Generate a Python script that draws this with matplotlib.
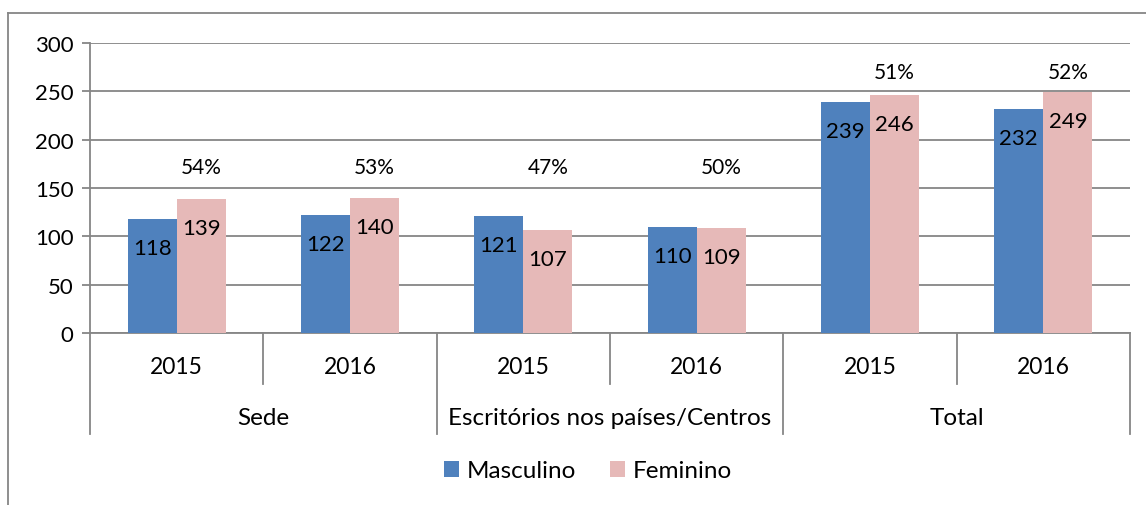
import matplotlib
matplotlib.use("Agg")
import matplotlib.pyplot as plt
import matplotlib.transforms as mtransforms
from matplotlib.lines import Line2D
import numpy as np

# data
groups = ["Sede", "Escritórios nos países/Centros", "Total"]
years = ["2015", "2016"]
masculino = [118, 122, 121, 110, 239, 232]
feminino = [139, 140, 107, 109, 246, 249]

BLUE = "#4F81BD"
PINK = "#E6B9B8"
GRID = "#868686"
FONT = "Lato"

plt.rcParams['font.family'] = [FONT, 'DejaVu Sans']


def main():
	fig = plt.figure(figsize=(11.46, 5.06), dpi=100)
	ax = fig.add_axes([90 / 1146, 1 - 334 / 506, 1040 / 1146, 290 / 506])

	n = len(masculino)
	x = np.arange(n)
	w = 0.283
	b1 = ax.bar(x - w / 2, masculino, w, color=BLUE, label="Masculino", zorder=3)
	b2 = ax.bar(x + w / 2, feminino, w, color=PINK, label="Feminino", zorder=3)

	ax.set_xlim(-0.5, n - 0.5)
	ax.set_ylim(0, 300)
	ax.set_yticks(range(0, 301, 50))
	ax.tick_params(axis='y', labelsize=16, length=6, width=1.3, color=GRID, pad=6)
	ax.set_xticks([])
	ax.grid(axis='y', color=GRID, linewidth=1.3, zorder=0)
	ax.set_axisbelow(True)
	for s in ['top', 'right']:
		ax.spines[s].set_visible(False)
	for s in ['left', 'bottom']:
		ax.spines[s].set_color(GRID)
		ax.spines[s].set_linewidth(1.3)

	# value labels inside end
	for bars, vals in ((b1, masculino), (b2, feminino)):
		for r, v in zip(bars, vals):
			ax.annotate(str(v), (r.get_x() + r.get_width() / 2, v), xytext=(0, -21),
				textcoords='offset points', ha='center', va='center', fontsize=16)

	# percentage of women, shown above each pair
	pct = [f / (m + f) * 100 for m, f in zip(masculino, feminino)]
	pct_y = [172, 172, 172, 172, 270, 270]
	for i, p in enumerate(pct):
		ax.text(i + w / 2, pct_y[i], "%d%%" % round(p), ha='center', va='center', fontsize=15)

	# multi-level category axis
	trans = mtransforms.blended_transform_factory(ax.transData, ax.transAxes)
	for i in range(n + 1):
		xb = i - 0.5
		low = -0.348 if i % 2 == 0 else -0.176
		ax.add_line(Line2D([xb, xb], [0, low], transform=trans, color=GRID, lw=1.3, clip_on=False))
	for i in range(n):
		ax.text(i, -0.114, years[i % 2], transform=trans, ha='center', va='center', fontsize=16.5)
	for j, g in enumerate(groups):
		ax.text(2 * j + 0.5, -0.29, g, transform=trans, ha='center', va='center', fontsize=17.5)

	fig.legend(loc='center', bbox_to_anchor=(588 / 1146, 1 - 472 / 506), ncol=2, frameon=False,
		fontsize=17.5, handlelength=0.62, handleheight=0.62, handletextpad=0.3, columnspacing=1.4)

	# chart area border (top and left visible)
	fig.add_artist(Line2D([8 / 1146, 1], [1 - 14 / 506, 1 - 14 / 506], transform=fig.transFigure, color=GRID, lw=1.3))
	fig.add_artist(Line2D([8 / 1146, 8 / 1146], [0, 1 - 14 / 506], transform=fig.transFigure, color=GRID, lw=1.3))

	fig.savefig("out.png", dpi=100)


if __name__ == "__main__": main()
